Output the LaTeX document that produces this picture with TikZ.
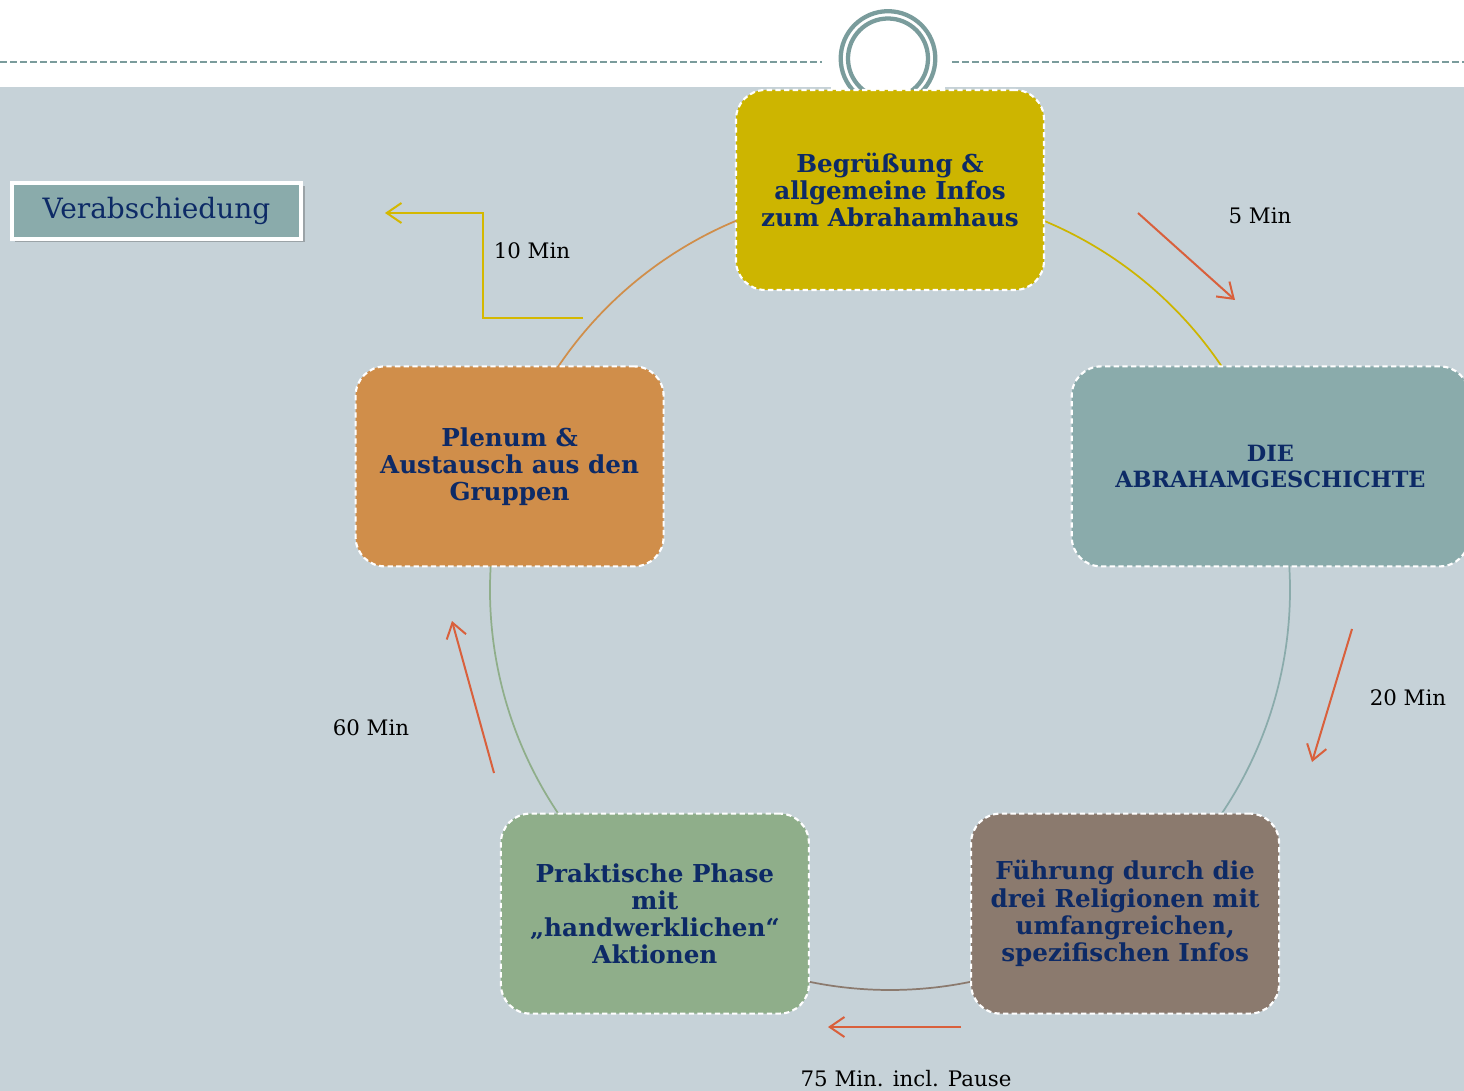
\documentclass[tikz,border=0pt]{standalone}
\usepackage{fontspec}
\setmainfont{DejaVu Serif}
\usetikzlibrary{arrows.meta,shadows}
\definecolor{bgc}{HTML}{C6D2D8}
\definecolor{ringc}{HTML}{7A9C9C}
\definecolor{ycol}{HTML}{CDB500}
\definecolor{tcol}{HTML}{8AABAB}
\definecolor{bcol}{HTML}{8B7A6E}
\definecolor{gcol}{HTML}{8FAE8A}
\definecolor{ocol}{HTML}{D08E4A}
\definecolor{navy}{HTML}{0D2A66}
\definecolor{redc}{HTML}{D9603C}
\definecolor{elbow}{HTML}{D4B800}
\pgfdeclarelayer{bg}
\pgfdeclarelayer{arcs}
\pgfsetlayers{bg,arcs,main}
\begin{document}
\begin{tikzpicture}[x=0.75pt,y=-0.75pt,
  stagebox/.style={draw=white, line width=1.6pt, dash pattern=on 4pt off 2.5pt,
    rounded corners=22pt, minimum width=231pt, minimum height=150pt,
    inner sep=0pt, outer sep=0pt, align=center, text=navy,
    font=\fontsize{18.5}{20.4}\selectfont\bfseries},
  timelabel/.style={text=black, font=\fontsize{16}{18}\selectfont, inner sep=0pt},
  redarrow/.style={draw=redc, line width=1.5pt, -{Straight Barb[length=11pt,width=15pt,line width=1.5pt]}},
  arcline/.style={line width=1.3pt}
]
\useasboundingbox (0,0) rectangle (1464,1091);
\clip (0,0) rectangle (1464,1091);
\begin{pgfonlayer}{bg}
\fill[white] (0,0) rectangle (1464,1091);
\fill[bgc] (0,87) rectangle (1464,1091);
\fill[white] (831,86) rectangle (945,96);
\draw[ringc, line width=1.5pt, dash pattern=on 5pt off 2.5pt] (0,62) -- (822,62);
\draw[ringc, line width=1.5pt, dash pattern=on 5pt off 2.5pt] (952,62) -- (1464,62);
\fill[white] (888,58.5) circle[radius=49];
\draw[ringc, line width=3.2pt] (888,58.5) circle[radius=47.3];
\draw[ringc, line width=3.2pt] (888,58.5) circle[radius=40];
\end{pgfonlayer}

% stage boxes
\node[stagebox, fill=ycol] (ny) at (890,190) {Begrüßung \&\\allgemeine Infos\\zum Abrahamhaus};
\node[stagebox, fill=tcol, minimum width=298pt, font=\fontsize{16.8}{19.5}\selectfont\bfseries] (nt) at (1270.4,466.4) {DIE\\ABRAHAMGESCHICHTE};
\node[stagebox, fill=bcol] (nb) at (1125.1,913.6) {Führung durch die\\drei Religionen mit\\umfangreichen,\\spezifischen Infos};
\node[stagebox, fill=gcol] (ng) at (654.9,913.6) {Praktische Phase\\mit\\„handwerklichen“\\Aktionen};
\node[stagebox, fill=ocol] (no) at (509.6,466.4) {Plenum \&\\Austausch aus den\\Gruppen};

% circle arcs between boxes
\begin{pgfonlayer}{arcs}
\draw[arcline, ycol] (ny.center) arc[start angle=-90, end angle=-18, radius=400];
\draw[arcline, tcol] (nt.center) arc[start angle=-18, end angle=54, radius=400];
\draw[arcline, bcol] (nb.center) arc[start angle=54, end angle=126, radius=400];
\draw[arcline, gcol] (ng.center) arc[start angle=126, end angle=198, radius=400];
\draw[arcline, ocol] (no.center) arc[start angle=198, end angle=270, radius=400];
\end{pgfonlayer}

% Verabschiedung
\node[draw=white, line width=3pt, fill=tcol, minimum width=217pt, minimum height=42pt,
  inner sep=0pt, text=navy, font=\fontsize{21}{24}\selectfont,
  drop shadow={shadow xshift=2.5pt, shadow yshift=-2.5pt, opacity=0.35, fill=black!70}]
  (nv) at (156.5,211) {Verabschiedung};

% time arrows
\coordinate (a1s) at (1138,213); \coordinate (a1e) at (1235,300);
\coordinate (a2s) at (1352,629); \coordinate (a2e) at (1312,762);
\coordinate (a3s) at (961,1027); \coordinate (a3e) at (828,1027);
\coordinate (a4s) at (494,773);  \coordinate (a4e) at (452,621);
\draw[redarrow] (a1s) -- (a1e);
\draw[redarrow] (a2s) -- (a2e);
\draw[redarrow] (a3s) -- (a3e);
\draw[redarrow] (a4s) -- (a4e);

\coordinate (e1) at (583,318); \coordinate (e2) at (483,318);
\coordinate (e3) at (483,213); \coordinate (e4) at (385,213);
\draw[draw=elbow, line width=1.5pt, -{Straight Barb[length=11pt,width=15pt,line width=1.5pt]}]
  (e1) -- (e2) -- (e3) -- (e4);

% labels
\node[timelabel] (l1) at (1260,216) {5 Min};
\node[timelabel] (l2) at (1408,698) {20 Min};
\node[timelabel] (l3) at (906,1079) {75 Min. incl. Pause};
\node[timelabel] (l4) at (371,728) {60 Min};
\node[timelabel] (l5) at (532,251) {10 Min};
\end{tikzpicture}
\end{document}
